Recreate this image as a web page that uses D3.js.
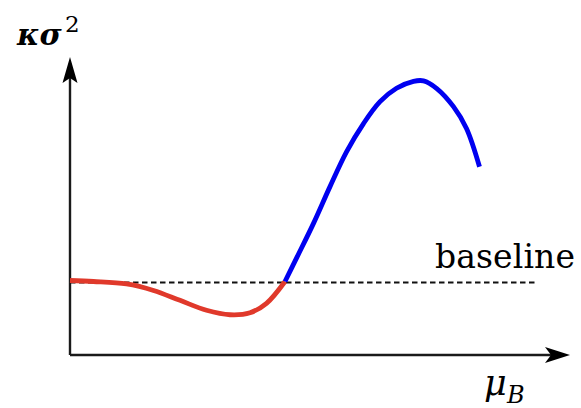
<!DOCTYPE html>
<html>
<head>
<meta charset="utf-8">
<script src="https://cdn.jsdelivr.net/npm/d3@7"></script>
<style>
  body { margin: 0; background: #fff; }
  svg { display: block; }
</style>
</head>
<body>
<div id="chart"></div>
<script>
// curve samples (arbitrary units: x 0..10, y 0..6)
const redX  = [0, 0.47, 1.13, 1.67, 2.20, 2.73, 3.20, 3.60, 3.93, 4.30];
const redY  = [1.50, 1.48, 1.43, 1.30, 1.10, 0.90, 0.81, 0.85, 1.04, 1.48];
const blueX = [4.30, 4.54, 4.87, 5.20, 5.53, 5.87, 6.20, 6.53, 6.87, 7.07, 7.33, 7.67, 7.93, 8.19];
const blueY = [1.48, 1.97, 2.65, 3.39, 4.09, 4.66, 5.10, 5.37, 5.51, 5.52, 5.37, 5.00, 4.56, 3.79];
const baselineY = 1.46;
const baselineEnd = 9.34;

const width = 581, height = 408;
const serif = "DejaVu Serif";

const svg = d3.select("#chart").append("svg")
    .attr("width", width)
    .attr("height", height);

const xScale = d3.scaleLinear().domain([0, 10]).range([70, 570]);
const yScale = d3.scaleLinear().domain([0, 6]).range([355, 57]);

const axisColor = "#1a1a1a";

// dashed baseline
svg.append("line")
    .attr("x1", xScale(0))
    .attr("x2", xScale(baselineEnd))
    .attr("y1", yScale(baselineY))
    .attr("y2", yScale(baselineY))
    .attr("stroke", "#111")
    .attr("stroke-width", 1.8)
    .attr("stroke-dasharray", "5.5,3.5");

// axes
svg.append("line")
    .attr("x1", xScale(0)).attr("y1", yScale(0))
    .attr("x2", xScale(10) - 10).attr("y2", yScale(0))
    .attr("stroke", axisColor).attr("stroke-width", 2.4);
svg.append("line")
    .attr("x1", xScale(0)).attr("y1", yScale(0))
    .attr("x2", xScale(0)).attr("y2", yScale(6) + 10)
    .attr("stroke", axisColor).attr("stroke-width", 2.4);

// arrow heads (tip at the end of the axis)
const xTip = [xScale(10), yScale(0)];
svg.append("path")
    .attr("d", `M${xTip[0]},${xTip[1]} L${xTip[0]-25},${xTip[1]-8} L${xTip[0]-19},${xTip[1]} L${xTip[0]-25},${xTip[1]+8} Z`)
    .attr("fill", "#000");
const yTip = [xScale(0), yScale(6)];
svg.append("path")
    .attr("d", `M${yTip[0]},${yTip[1]} L${yTip[0]-7.5},${yTip[1]+26} L${yTip[0]},${yTip[1]+21} L${yTip[0]+7.5},${yTip[1]+26} Z`)
    .attr("fill", "#000");

// curves
const line = d3.line()
    .x(d => xScale(d[0]))
    .y(d => yScale(d[1]))
    .curve(d3.curveCatmullRom.alpha(0.5));

svg.append("path")
    .datum(redX.map((x, i) => [x, redY[i]]))
    .attr("d", line)
    .attr("fill", "none")
    .attr("stroke", "#e0392b")
    .attr("stroke-width", 4.8)
    .attr("stroke-linecap", "butt");

svg.append("path")
    .datum(blueX.map((x, i) => [x, blueY[i]]))
    .attr("d", line)
    .attr("fill", "none")
    .attr("stroke", "#0000f0")
    .attr("stroke-width", 4.8)
    .attr("stroke-linecap", "butt");

// labels
svg.append("text")
    .attr("x", 17)
    .attr("y", 45)
    .attr("font-family", serif)
    .attr("font-style", "italic")
    .attr("font-weight", "bold")
    .attr("font-size", 30)
    .attr("fill", "#000")
    .text("κσ");
svg.append("text")
    .attr("x", 65)
    .attr("y", 32)
    .attr("font-family", serif)
    .attr("font-size", 23)
    .attr("fill", "#000")
    .text("2");

svg.append("text")
    .attr("x", 484)
    .attr("y", 395)
    .attr("font-family", serif)
    .attr("font-style", "italic")
    .attr("font-size", 35)
    .attr("fill", "#000")
    .text("μ");
svg.append("text")
    .attr("x", 507)
    .attr("y", 403)
    .attr("font-family", serif)
    .attr("font-style", "italic")
    .attr("font-size", 24)
    .attr("fill", "#000")
    .text("B");

svg.append("text")
    .attr("x", 435)
    .attr("y", 268)
    .attr("font-family", serif)
    .attr("font-size", 33)
    .attr("textLength", 140)
    .attr("lengthAdjust", "spacing")
    .attr("fill", "#000")
    .text("baseline");
</script>
</body>
</html>
